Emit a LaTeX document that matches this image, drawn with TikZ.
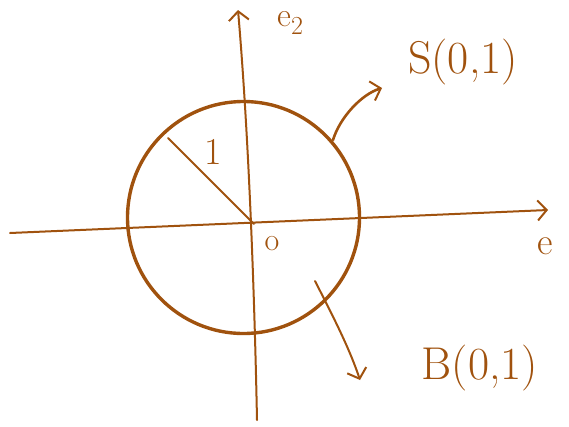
\documentclass[tikz,border=0pt]{standalone}
\usepackage{tikz}
\usetikzlibrary{arrows.meta}
\definecolor{Sepia}{RGB}{160,82,14}

\begin{document}
\begin{tikzpicture}[x=1pt, y=-1pt, line cap=round, line join=round,
	every node/.style={text=Sepia, inner sep=0pt},
	hand/.style={font=\fontsize{38}{44}\selectfont},
	big/.style={font=\fontsize{46}{52}\selectfont},
	tip/.style={-{Straight Barb[length=9pt, width=20pt, line width=2pt]}}]
		\useasboundingbox (0,0) rectangle (569,426);
		\coordinate (C) at (243.5,217.5);
		\coordinate (O) at (254,224);
		\coordinate (R) at (168,138);
		\coordinate (W) at (10,233);
		\coordinate (E) at (548,210);
		\coordinate (S) at (238,10);
		\coordinate (N) at (257,420);
		\coordinate (Sfoot) at (333,140);
		\coordinate (Shead) at (382,88);
		\coordinate (Bfoot) at (315,281);
		\coordinate (Bhead) at (360,380);
		\draw[Sepia, line width=3.4pt] (C) circle (116);
		\draw[Sepia, line width=2pt, tip] (W)--(E);
		\draw[Sepia, line width=2pt, tip] (N) .. controls (255,320) and (250,150) .. (S);
		\draw[Sepia, line width=1.8pt] (O)--(R);
		\draw[Sepia, line width=2.6pt, tip] (Sfoot) .. controls (340,117) and (362,94) .. (Shead);
		\draw[Sepia, line width=2pt, tip] (Bfoot) .. controls (335,320) and (350,350) .. (Bhead);
		\node[hand] (one) at (213,152) {1};
		\node[font=\fontsize{32}{36}\selectfont] (origin) at (272,244) {o};
		\node[font=\fontsize{34}{40}\selectfont, anchor=base west] (e2) at (277,26) {e\raisebox{-8pt}{\fontsize{26}{30}\selectfont 2}};
		\node[hand, anchor=base west] (e1) at (537,254) {e};
		\node[big] (sphere) at (463,62) {S(0,1)};
		\node[big] (ball) at (480,368) {B(0,1)};
	\end{tikzpicture}
\end{document}
